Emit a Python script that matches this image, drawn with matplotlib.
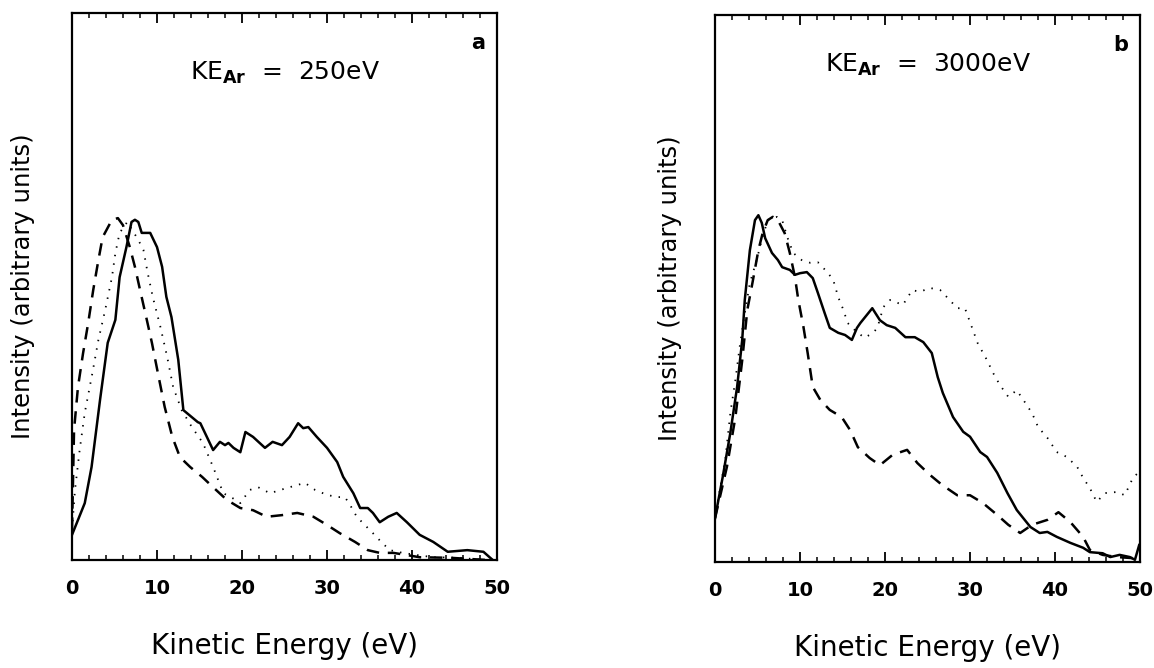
import matplotlib
matplotlib.use("Agg")
import matplotlib.pyplot as plt
from matplotlib.ticker import MultipleLocator

# ---------------- data ----------------
# Panel a : KE_Ar = 250 eV
a_solid_x = [0, 1.5, 2.3, 3.3, 4.2, 5.1, 5.6, 6.4, 7.0, 7.4, 7.8, 8.2, 9.2, 10.0, 10.6, 11.1,
             11.7, 12.5, 13.1, 14.8, 15.1, 16.6, 17.4, 18.0, 18.4, 19.0, 19.8, 20.4, 21.3, 22.7,
             23.6, 24.7, 25.6, 26.6, 27.2, 27.8, 28.8, 30.0, 31.2, 31.9, 33.1, 33.9, 34.8, 35.4,
             36.2, 37.2, 38.2, 39.4, 40.9, 42.5, 44.2, 46.5, 48.4, 49.2, 49.5]
a_solid_y = [4.6, 10.4, 17.0, 29.3, 39.7, 43.9, 51.7, 57.2, 61.8, 62.2, 61.8, 59.8, 59.8, 57.2,
             53.6, 48.1, 44.4, 36.6, 27.4, 25.2, 25.0, 20.1, 21.6, 21.0, 21.4, 20.5, 19.7, 23.4,
             22.5, 20.5, 21.6, 21.0, 22.5, 25.0, 24.1, 24.3, 22.5, 20.5, 17.9, 15.2, 12.2, 9.5,
             9.5, 8.6, 6.9, 7.9, 8.6, 6.9, 4.6, 3.3, 1.5, 1.8, 1.5, 0.4, 0.0]

a_dash_x = [0, 0.24, 0.7, 1.3, 1.9, 2.5, 3.1, 3.6, 4.7, 5.4, 6.0, 6.8, 7.4, 8.0, 8.8, 9.4, 10.1,
            10.9, 11.8, 12.7, 13.9, 15.3, 16.6, 18.2, 19.8, 21.3, 22.9, 24.7, 26.5, 28.4, 30.0,
            31.5, 33.3, 34.8, 36.2, 37.8, 39.4, 40.9, 44.5, 48.8]
a_dash_y = [5.5, 23.8, 31.6, 37.8, 43.3, 49.4, 54.8, 59.0, 62.2, 62.5, 61.2, 57.2, 53.6, 49.4,
            43.9, 39.7, 34.2, 28.0, 22.5, 18.8, 17.0, 15.2, 13.3, 11.0, 9.5, 9.1, 7.9, 8.2, 8.6,
            7.9, 6.4, 4.9, 3.3, 1.8, 1.3, 1.3, 0.9, 0.5, 0.4, 0.0]

a_dot_x = [0, 0.35, 0.9, 1.5, 2.4, 3.1, 3.9, 4.7, 5.1, 5.6, 6.5, 7.1, 7.8, 8.4, 8.9, 9.5, 10.4,
           11.2, 11.9, 12.9, 14.1, 15.4, 16.6, 17.8, 18.9, 19.8, 20.9, 21.9, 23.3, 24.5, 25.6,
           27.4, 28.6, 30.0, 31.2, 32.1, 32.7, 33.5, 34.7, 35.4, 36.5, 37.4, 38.9, 40.6, 42.5,
           45.6, 48.4]
a_dot_y = [5.5, 12.8, 20.1, 26.9, 34.2, 40.2, 45.7, 51.7, 56.1, 59.8, 61.8, 60.3, 58.5, 56.7,
           52.5, 48.1, 42.6, 37.1, 31.6, 27.4, 24.3, 21.4, 17.0, 12.2, 11.3, 10.4, 12.8, 13.3,
           12.2, 12.8, 13.3, 14.1, 12.8, 11.9, 11.5, 11.5, 10.1, 7.9, 6.0, 4.9, 3.1, 1.8, 1.3,
           0.9, 0.5, 0.4, 0.0]

# Panel b : KE_Ar = 3000 eV
b_solid_x = [0, 0.9, 1.8, 2.6, 3.2, 3.5, 4.1, 4.7, 5.1, 5.5, 5.9, 6.7, 7.4, 7.9, 8.8, 9.4, 10.0,
             10.8, 11.5, 12.1, 12.9, 13.5, 14.5, 15.3, 16.1, 16.7, 17.1, 18.5, 19.4, 20.2, 21.2,
             22.4, 23.5, 24.5, 25.5, 26.2, 26.8, 28.0, 29.2, 30.0, 31.2, 32.0, 33.2, 34.4, 35.5,
             37.1, 38.2, 39.1, 40.2, 41.8, 43.3, 44.1, 45.6, 46.5, 47.6, 48.8, 49.4, 49.9]
b_solid_y = [8.0, 15.5, 23.6, 32.0, 40.6, 47.9, 57.0, 62.5, 63.4, 62.0, 59.2, 56.5, 55.2, 53.9,
             53.4, 52.5, 52.8, 53.0, 51.9, 49.2, 45.5, 42.8, 41.9, 41.5, 40.6, 42.8, 43.7, 46.4,
             44.2, 43.3, 42.8, 41.1, 41.1, 40.2, 38.2, 33.8, 30.9, 26.5, 23.8, 22.9, 20.1, 19.2,
             16.3, 12.6, 9.5, 6.4, 5.3, 5.5, 4.6, 3.5, 2.6, 1.8, 1.6, 0.9, 1.3, 0.9, 0.4, 3.1]

b_dash_x = [0, 1.4, 2.4, 3.2, 3.8, 4.4, 5.1, 5.6, 6.2, 6.8, 7.4, 8.2, 8.8, 9.4, 9.8, 10.4, 10.9,
            11.5, 12.4, 13.5, 14.9, 15.9, 16.8, 18.2, 19.4, 20.9, 22.6, 23.8, 25.3, 26.7, 28.5,
            30.0, 31.5, 33.2, 34.5, 35.9, 37.3, 39.1, 40.4, 41.8, 43.3, 44.1, 45.6, 47.3, 49.2]
b_dash_y = [8.0, 17.4, 26.5, 36.9, 46.1, 51.0, 57.0, 60.1, 62.5, 63.1, 62.5, 60.1, 56.5, 52.1,
            47.9, 43.0, 38.2, 32.0, 29.6, 27.8, 26.5, 24.1, 21.0, 19.0, 17.7, 19.6, 20.5, 18.1,
            15.9, 14.1, 12.2, 12.2, 10.8, 8.6, 6.8, 5.3, 6.8, 7.7, 9.1, 7.3, 4.6, 2.2, 1.3, 0.9,
            0.7]

b_dot_x = [0, 0.35, 1.2, 1.8, 2.4, 2.9, 3.5, 4.1, 4.9, 5.5, 6.2, 7.3, 7.9, 8.5, 9.2, 10.2, 11.2,
           12.1, 13.2, 13.9, 14.5, 15.1, 15.6, 16.7, 17.6, 18.6, 19.1, 19.8, 20.6, 22.1, 23.2,
           24.1, 25.3, 26.5, 27.6, 28.5, 29.4, 30.2, 30.9, 32.0, 32.7, 33.5, 34.5, 35.5, 36.5,
           37.3, 38.0, 39.1, 40.2, 41.4, 42.6, 43.3, 44.1, 44.9, 45.9, 47.3, 48.2, 49.2, 49.8]
b_dot_y = [8.0, 11.3, 18.6, 27.2, 33.3, 39.3, 45.5, 51.0, 55.2, 58.9, 62.5, 63.1, 62.5, 59.4,
           56.5, 55.2, 54.7, 54.8, 53.0, 51.6, 48.4, 46.1, 43.7, 42.0, 41.0, 41.9, 42.8, 46.6,
           47.9, 47.0, 49.7, 49.4, 50.1, 49.7, 47.9, 46.4, 46.4, 43.0, 40.0, 36.9, 34.6, 32.4,
           30.2, 31.4, 29.1, 27.2, 24.7, 22.7, 20.1, 19.2, 17.4, 15.4, 13.5, 11.0, 12.6, 12.8,
           12.2, 15.5, 16.3]

x_ticks = [0, 10, 20, 30, 40, 50]
panel_titles = ["KE$_{\\mathbf{Ar}}$  =  250eV", "KE$_{\\mathbf{Ar}}$  =  3000eV"]
panel_letters = ["a", "b"]
xlabel = "Kinetic Energy (eV)"
ylabel = "Intensity (arbitrary units)"

# ---------------- figure ----------------
plt.rcParams['font.family'] = ['DejaVu Sans']
plt.rcParams['mathtext.fontset'] = 'dejavusans'
fig = plt.figure(figsize=(11.54, 6.68), dpi=100)

ax_a = fig.add_axes([0.0624, 0.1617, 0.3683, 0.8188])
ax_b = fig.add_axes([0.6196, 0.1587, 0.3683, 0.8188])

panels = [
    (ax_a, (a_solid_x, a_solid_y), (a_dash_x, a_dash_y), (a_dot_x, a_dot_y)),
    (ax_b, (b_solid_x, b_solid_y), (b_dash_x, b_dash_y), (b_dot_x, b_dot_y)),
]
title_y = [0.890, 0.909]
ylabel_x = [-0.088, -0.078]

for i, (ax, s, d, o) in enumerate(panels):
    ax.plot(s[0], s[1], color='black', lw=1.8, ls='-')
    ax.plot(d[0], d[1], color='black', lw=1.8, ls=(0, (5, 3.5)))
    ax.plot(o[0], o[1], color='black', lw=1.3, ls=(0, (0.8, 4)))
    ax.set_xlim(0, 50)
    ax.set_ylim(0, 100)
    ax.set_xticks(x_ticks)
    ax.xaxis.set_minor_locator(MultipleLocator(2))
    ax.set_yticks([])
    ax.tick_params(axis='x', which='major', direction='in', length=7, width=1.3,
                   top=True, labelsize=14, pad=14)
    ax.tick_params(axis='x', which='minor', direction='in', length=3.5, width=1.1, top=True)
    for lab in ax.get_xticklabels():
        lab.set_fontweight('bold')
    for sp in ax.spines.values():
        sp.set_linewidth(1.6)
    ax.set_xlabel(xlabel, fontsize=20, labelpad=24)
    ax.set_ylabel(ylabel, fontsize=17.5)
    ax.yaxis.set_label_coords(ylabel_x[i], 0.5)
    ax.text(0.5, title_y[i], panel_titles[i], transform=ax.transAxes,
            ha='center', va='center', fontsize=18)
    ax.text(0.955, 0.945, panel_letters[i], transform=ax.transAxes,
            ha='center', va='center', fontsize=15, fontweight='bold')

fig.savefig("out.png", dpi=100)
